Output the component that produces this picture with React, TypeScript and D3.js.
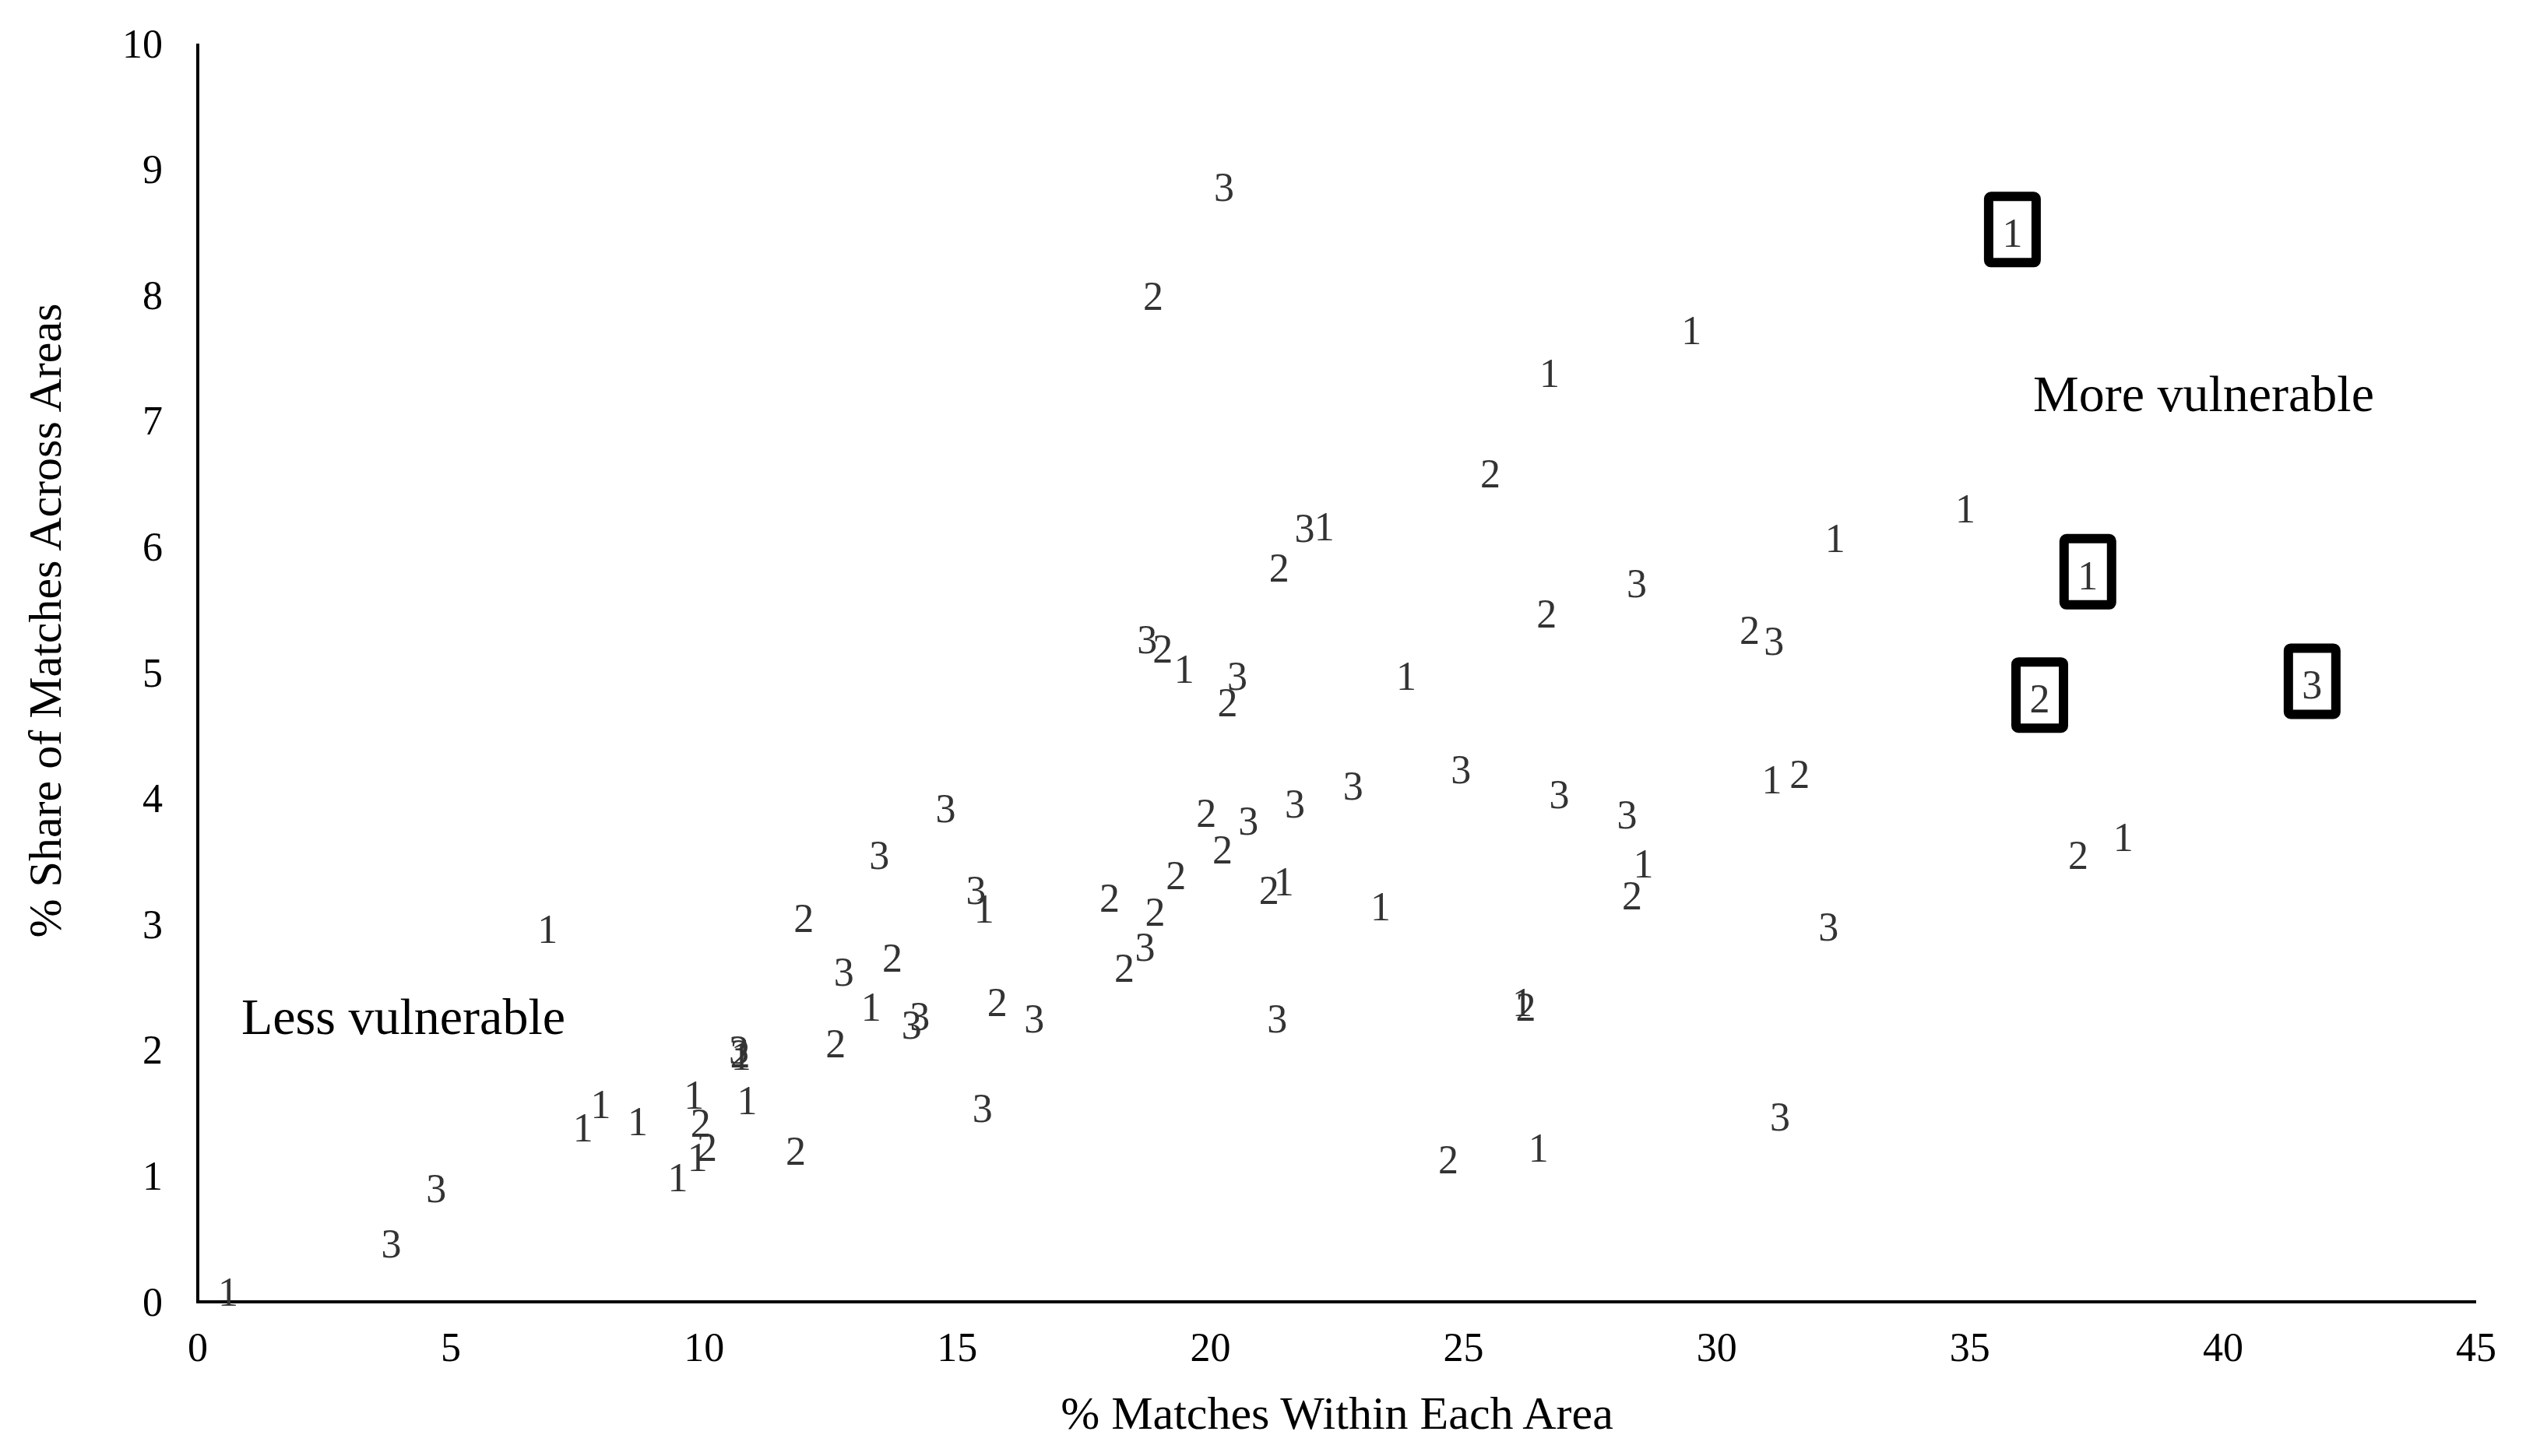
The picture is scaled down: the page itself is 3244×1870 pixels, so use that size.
import React, { useEffect } from "react";
import * as d3 from "d3";

// Axis ticks
const xTicks = [0, 5, 10, 15, 20, 25, 30, 35, 40, 45];
const yTicks = [0, 1, 2, 3, 4, 5, 6, 7, 8, 9, 10];

// Points labelled "1" : [% matches within area, % share across areas]
const group1: [number, number][] = [
  [0.6, 0.08], [7.61, 1.38], [7.96, 1.57], [8.69, 1.43], [9.48, 0.99], [9.8, 1.64],
  [9.87, 1.15], [10.85, 1.6], [10.73, 1.95], [13.3, 2.34], [15.53, 3.12], [21.45, 3.34],
  [23.36, 3.14], [28.55, 3.48], [26.16, 2.38], [26.48, 1.22], [31.09, 4.15], [38.03, 3.69],
  [34.91, 6.3], [32.34, 6.07], [23.87, 4.97], [19.48, 5.03], [22.25, 6.16], [26.7, 7.38],
  [29.5, 7.72], [6.91, 2.96],
];

// Points labelled "2"
const group2: [number, number][] = [
  [9.93, 1.42], [10.06, 1.23], [10.71, 1.97], [11.81, 1.2], [11.97, 3.05], [12.6, 2.05],
  [13.72, 2.73], [15.79, 2.38], [18.01, 3.21], [18.91, 3.1], [18.3, 2.65], [19.32, 3.39],
  [19.92, 3.88], [20.24, 3.59], [21.16, 3.27], [28.33, 3.23], [26.23, 2.34], [24.7, 1.13],
  [31.64, 4.19], [37.14, 3.55], [30.65, 5.34], [26.64, 5.47], [20.34, 4.76], [19.06, 5.19],
  [21.36, 5.83], [25.53, 6.58], [18.87, 7.99],
];

// Points labelled "3"
const group3: [number, number][] = [
  [3.82, 0.46], [4.71, 0.9], [10.69, 2.0], [12.76, 2.62], [13.46, 3.55], [14.77, 3.92],
  [14.1, 2.2], [14.26, 2.27], [16.52, 2.25], [15.5, 1.54], [15.37, 3.27], [18.71, 2.82],
  [20.75, 3.82], [21.67, 3.96], [21.32, 2.25], [22.82, 4.1], [24.95, 4.23], [26.89, 4.03],
  [28.23, 3.87], [31.25, 1.47], [32.21, 2.98], [31.13, 5.25], [28.42, 5.71], [20.53, 4.97],
  [18.75, 5.26], [21.86, 6.15], [20.27, 8.86],
];

// Highlighted (boxed) points
const boxedLabels = ["1", "1", "2", "3"];
const boxedX = [35.84, 37.33, 36.38, 41.76];
const boxedY = [8.51, 5.79, 4.81, 4.92];

const W = 3244;
const H = 1870;
const FONT = "'Liberation Serif', 'Times New Roman', serif";

export default function App() {
  useEffect(() => {
    document.body.style.margin = "0";
  }, []);

  const x = d3.scaleLinear().domain([0, 45]).range([254, 3180]);
  const y = d3.scaleLinear().domain([0, 10]).range([1672, 56]);

  const groups: { label: string; pts: [number, number][] }[] = [
    { label: "1", pts: group1 },
    { label: "2", pts: group2 },
    { label: "3", pts: group3 },
  ];

  const boxW = 61;
  const boxH = 85;

  return (
    <svg
      width={W}
      height={H}
      viewBox={`0 0 ${W} ${H}`}
      style={{ display: "block", position: "absolute", left: 0, top: 0, background: "#fff" }}
      fontFamily={FONT}
    >
      <rect x={0} y={0} width={W} height={H} fill="#fff" />

      {/* axes */}
      <line x1={x(0)} x2={x(0)} y1={y(0)} y2={y(10)} stroke="#000" strokeWidth={4} />
      <line x1={x(0) - 2} x2={x(45)} y1={y(0)} y2={y(0)} stroke="#000" strokeWidth={4} />

      {/* y tick labels */}
      {yTicks.map((t) => (
        <text key={"y" + t} x={209} y={y(t)} textAnchor="end" dominantBaseline="central" fontSize={52} fill="#000">
          {t}
        </text>
      ))}

      {/* x tick labels */}
      {xTicks.map((t) => (
        <text key={"x" + t} x={x(t)} y={1730} textAnchor="middle" dominantBaseline="central" fontSize={52} fill="#000">
          {t}
        </text>
      ))}

      {/* axis titles */}
      <text x={x(22.5)} y={1815} textAnchor="middle" dominantBaseline="central" fontSize={60} fill="#000">
        % Matches Within Each Area
      </text>
      <text
        transform={`translate(58,797) rotate(-90)`}
        textAnchor="middle"
        dominantBaseline="central"
        fontSize={60}
        fill="#000"
      >
        % Share of Matches Across Areas
      </text>

      {/* annotations */}
      <text x={310} y={1305} dominantBaseline="central" fontSize={66} fill="#000">
        Less vulnerable
      </text>
      <text x={2611} y={505} dominantBaseline="central" fontSize={66} fill="#000">
        More vulnerable
      </text>

      {/* point labels */}
      {groups.map((g) =>
        g.pts.map((p, i) => (
          <text
            key={g.label + "-" + i}
            x={x(p[0])}
            y={y(p[1])}
            textAnchor="middle"
            dominantBaseline="central"
            fontSize={52}
            fill="#333"
          >
            {g.label}
          </text>
        ))
      )}

      {/* boxed points */}
      {boxedLabels.map((lab, i) => (
        <g key={"b" + i}>
          <rect
            x={x(boxedX[i]) - boxW / 2}
            y={y(boxedY[i]) - boxH / 2 - 2}
            width={boxW}
            height={boxH}
            rx={3}
            fill="#fff"
            stroke="#000"
            strokeWidth={12}
          />
          <text
            x={x(boxedX[i])}
            y={y(boxedY[i]) + 3}
            textAnchor="middle"
            dominantBaseline="central"
            fontSize={52}
            fill="#333"
          >
            {lab}
          </text>
        </g>
      ))}
    </svg>
  );
}
